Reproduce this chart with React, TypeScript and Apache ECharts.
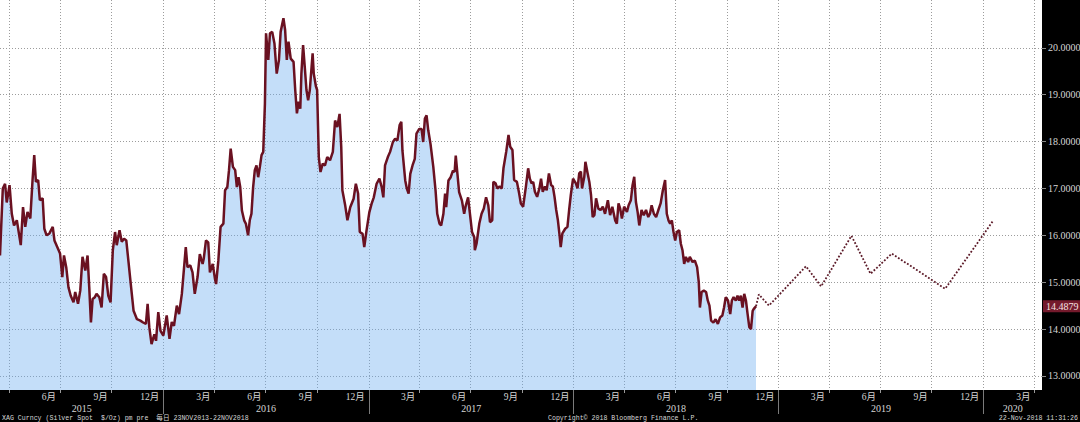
import React, { useEffect, useRef } from 'react';
import * as echarts from 'echarts';

// Silver spot (XAG, $/oz)
const price2015: [string, number][] = [
  ['2015-03-16', 15.57], ['2015-03-21', 17.0], ['2015-03-25', 17.1], ['2015-03-28', 16.7],
  ['2015-04-02', 17.07], ['2015-04-06', 16.46], ['2015-04-10', 16.21], ['2015-04-15', 16.32],
  ['2015-04-22', 15.79], ['2015-04-26', 16.6], ['2015-04-30', 16.18], ['2015-05-04', 16.5],
  ['2015-05-09', 16.36], ['2015-05-13', 17.18], ['2015-05-16', 17.71], ['2015-05-19', 17.14],
  ['2015-05-23', 17.18], ['2015-05-26', 16.75], ['2015-05-31', 16.79], ['2015-06-03', 16.14],
  ['2015-06-07', 16.0], ['2015-06-12', 16.04], ['2015-06-18', 16.18], ['2015-06-21', 15.89],
  ['2015-06-26', 15.75], ['2015-07-01', 15.61], ['2015-07-05', 15.11], ['2015-07-08', 15.57],
  ['2015-07-12', 15.32], ['2015-07-16', 14.89], ['2015-07-20', 14.71], ['2015-07-25', 14.57],
  ['2015-07-28', 14.79], ['2015-08-02', 14.54], ['2015-08-06', 14.82], ['2015-08-10', 15.54],
  ['2015-08-15', 15.25], ['2015-08-19', 15.57], ['2015-08-22', 14.89], ['2015-08-25', 14.14],
  ['2015-08-28', 14.64], ['2015-09-01', 14.68], ['2015-09-04', 14.75], ['2015-09-09', 14.68],
  ['2015-09-13', 14.46], ['2015-09-17', 15.18], ['2015-09-21', 15.11], ['2015-09-25', 14.71],
  ['2015-09-29', 14.57], ['2015-10-03', 15.68], ['2015-10-07', 16.07], ['2015-10-10', 15.79],
  ['2015-10-15', 16.11], ['2015-10-19', 15.86], ['2015-10-23', 15.93], ['2015-10-27', 15.89],
  ['2015-10-31', 15.43], ['2015-11-04', 14.96], ['2015-11-09', 14.39], ['2015-11-15', 14.21],
  ['2015-11-21', 14.18], ['2015-11-26', 14.14], ['2015-12-01', 14.11], ['2015-12-04', 14.54],
  ['2015-12-07', 14.04], ['2015-12-11', 13.68], ['2015-12-16', 13.89], ['2015-12-19', 13.75],
  ['2015-12-23', 14.36], ['2015-12-27', 13.96],
];

const price2016: [string, number][] = [
  ['2016-01-01', 13.86], ['2016-01-07', 14.29], ['2016-01-12', 13.79], ['2016-01-16', 14.15],
  ['2016-01-20', 14.07], ['2016-01-25', 14.5], ['2016-01-29', 14.32], ['2016-02-03', 14.75],
  ['2016-02-07', 15.32], ['2016-02-10', 15.75], ['2016-02-13', 15.32], ['2016-02-18', 15.36],
  ['2016-02-22', 15.21], ['2016-02-26', 14.75], ['2016-03-02', 15.11], ['2016-03-06', 15.6],
  ['2016-03-11', 15.39], ['2016-03-13', 15.5], ['2016-03-17', 15.89], ['2016-03-21', 15.85],
  ['2016-03-24', 15.21], ['2016-03-29', 15.39], ['2016-04-02', 15.07], ['2016-04-04', 14.96],
  ['2016-04-08', 15.46], ['2016-04-12', 16.18], ['2016-04-17', 16.25], ['2016-04-20', 16.96],
  ['2016-04-24', 17.03], ['2016-04-27', 17.39], ['2016-04-30', 17.85], ['2016-05-04', 17.46],
  ['2016-05-08', 17.39], ['2016-05-11', 17.03], ['2016-05-14', 17.24], ['2016-05-17', 17.03],
  ['2016-05-20', 16.53], ['2016-05-24', 16.32], ['2016-05-27', 16.25], ['2016-05-31', 16.0],
  ['2016-06-03', 16.32], ['2016-06-06', 16.46], ['2016-06-09', 17.03], ['2016-06-12', 17.39],
  ['2016-06-15', 17.49], ['2016-06-18', 17.24], ['2016-06-21', 17.46], ['2016-06-24', 17.71],
  ['2016-06-27', 17.78], ['2016-06-30', 18.81], ['2016-07-02', 20.31], ['2016-07-06', 19.74],
  ['2016-07-09', 20.31], ['2016-07-13', 20.34], ['2016-07-17', 20.09], ['2016-07-21', 19.45],
  ['2016-07-25', 19.74], ['2016-07-28', 20.34], ['2016-08-02', 20.63], ['2016-08-05', 20.38],
  ['2016-08-08', 19.74], ['2016-08-11', 20.13], ['2016-08-15', 19.77], ['2016-08-20', 19.7],
  ['2016-08-23', 19.1], ['2016-08-26', 18.6], ['2016-08-29', 18.85], ['2016-09-01', 18.7],
  ['2016-09-03', 19.45], ['2016-09-06', 20.06], ['2016-09-09', 19.59], ['2016-09-12', 19.1],
  ['2016-09-15', 18.88], ['2016-09-18', 19.1], ['2016-09-23', 19.88], ['2016-09-25', 19.45],
  ['2016-09-29', 19.17], ['2016-10-01', 19.1], ['2016-10-04', 17.67], ['2016-10-07', 17.35],
  ['2016-10-11', 17.53], ['2016-10-15', 17.49], ['2016-10-19', 17.67], ['2016-10-24', 17.6],
  ['2016-10-29', 17.78], ['2016-11-02', 18.45], ['2016-11-06', 18.31], ['2016-11-10', 18.59],
  ['2016-11-13', 17.88], ['2016-11-15', 16.96], ['2016-11-20', 16.64], ['2016-11-24', 16.32],
  ['2016-11-29', 16.6], ['2016-12-05', 16.78], ['2016-12-09', 17.1], ['2016-12-13', 16.89],
  ['2016-12-16', 16.07], ['2016-12-21', 16.03], ['2016-12-24', 15.75], ['2016-12-28', 16.1],
];

const price2017: [string, number][] = [
  ['2017-01-02', 16.49], ['2017-01-06', 16.67], ['2017-01-10', 16.81], ['2017-01-15', 17.1],
  ['2017-01-20', 17.21], ['2017-01-24', 17.03], ['2017-01-27', 16.81], ['2017-01-30', 17.49],
  ['2017-02-04', 17.67], ['2017-02-08', 17.78], ['2017-02-13', 17.99], ['2017-02-17', 18.06],
  ['2017-02-21', 18.02], ['2017-02-25', 18.35], ['2017-02-28', 18.42], ['2017-03-02', 17.81],
  ['2017-03-07', 17.17], ['2017-03-10', 16.99], ['2017-03-13', 16.89], ['2017-03-16', 17.31],
  ['2017-03-20', 17.49], ['2017-03-24', 17.63], ['2017-03-27', 18.17], ['2017-04-01', 18.27],
  ['2017-04-05', 18.27], ['2017-04-08', 17.99], ['2017-04-11', 18.49], ['2017-04-14', 18.56],
  ['2017-04-17', 18.24], ['2017-04-21', 17.95], ['2017-04-26', 17.46], ['2017-04-30', 16.96],
  ['2017-05-03', 16.46], ['2017-05-07', 16.25], ['2017-05-10', 16.21], ['2017-05-14', 16.46],
  ['2017-05-17', 16.89], ['2017-05-19', 16.6], ['2017-05-23', 17.17], ['2017-05-27', 17.24],
  ['2017-05-31', 17.38], ['2017-06-03', 17.35], ['2017-06-05', 17.7], ['2017-06-08', 17.31],
  ['2017-06-11', 16.92], ['2017-06-16', 16.74], ['2017-06-20', 16.46], ['2017-06-23', 16.64],
  ['2017-06-27', 16.81], ['2017-06-30', 16.49], ['2017-07-04', 16.07], ['2017-07-08', 15.96],
  ['2017-07-09', 15.68], ['2017-07-12', 15.82], ['2017-07-17', 16.25], ['2017-07-21', 16.46],
  ['2017-07-25', 16.57], ['2017-07-29', 16.81], ['2017-08-02', 16.64], ['2017-08-05', 16.28],
  ['2017-08-09', 16.32], ['2017-08-11', 17.14], ['2017-08-15', 17.11], ['2017-08-18', 17.0],
  ['2017-08-22', 17.04], ['2017-08-26', 17.0], ['2017-08-29', 17.43], ['2017-09-03', 17.79],
  ['2017-09-07', 18.14], ['2017-09-10', 17.89], ['2017-09-14', 17.82], ['2017-09-17', 17.18],
  ['2017-09-22', 17.14], ['2017-09-26', 16.89], ['2017-09-29', 16.68], ['2017-10-03', 16.61],
  ['2017-10-08', 17.04], ['2017-10-12', 17.43], ['2017-10-15', 17.21], ['2017-10-18', 17.11],
  ['2017-10-21', 17.14], ['2017-10-24', 16.93], ['2017-10-28', 16.82], ['2017-11-01', 17.0],
  ['2017-11-04', 17.21], ['2017-11-07', 16.93], ['2017-11-11', 17.04], ['2017-11-14', 16.96],
  ['2017-11-18', 17.32], ['2017-11-22', 17.07], ['2017-11-25', 17.04], ['2017-11-28', 16.82],
  ['2017-12-01', 16.54], ['2017-12-04', 16.32], ['2017-12-07', 16.0], ['2017-12-09', 15.75],
  ['2017-12-12', 16.04], ['2017-12-17', 16.14], ['2017-12-21', 16.18], ['2017-12-24', 16.54],
  ['2017-12-27', 16.86], ['2017-12-31', 17.21],
];

const price2018: [string, number][] = [
  ['2018-01-05', 17.11], ['2018-01-08', 17.0], ['2018-01-11', 17.32], ['2018-01-14', 17.36],
  ['2018-01-16', 17.0], ['2018-01-20', 17.25], ['2018-01-22', 17.57], ['2018-01-26', 17.32],
  ['2018-01-29', 17.14], ['2018-02-01', 16.86], ['2018-02-04', 16.39], ['2018-02-07', 16.43],
  ['2018-02-10', 16.79], ['2018-02-14', 16.57], ['2018-02-18', 16.54], ['2018-02-22', 16.61],
  ['2018-02-26', 16.46], ['2018-03-03', 16.75], ['2018-03-07', 16.43], ['2018-03-11', 16.61],
  ['2018-03-16', 16.32], ['2018-03-19', 16.25], ['2018-03-22', 16.68], ['2018-03-25', 16.57],
  ['2018-03-28', 16.36], ['2018-04-01', 16.61], ['2018-04-06', 16.5], ['2018-04-09', 16.64],
  ['2018-04-13', 16.75], ['2018-04-16', 17.07], ['2018-04-19', 17.25], ['2018-04-22', 16.71],
  ['2018-04-25', 16.5], ['2018-04-28', 16.21], ['2018-05-02', 16.54], ['2018-05-06', 16.43],
  ['2018-05-10', 16.54], ['2018-05-14', 16.39], ['2018-05-17', 16.46], ['2018-05-20', 16.64],
  ['2018-05-24', 16.46], ['2018-05-28', 16.39], ['2018-06-01', 16.54], ['2018-06-05', 16.68],
  ['2018-06-09', 16.96], ['2018-06-13', 17.18], ['2018-06-16', 16.46], ['2018-06-19', 16.32],
  ['2018-06-22', 16.25], ['2018-06-25', 16.32], ['2018-06-28', 16.07], ['2018-07-01', 15.89],
  ['2018-07-04', 16.07], ['2018-07-08', 16.11], ['2018-07-11', 15.82], ['2018-07-14', 15.68],
  ['2018-07-17', 15.39], ['2018-07-20', 15.54], ['2018-07-24', 15.43], ['2018-07-27', 15.54],
  ['2018-08-01', 15.43], ['2018-08-05', 15.46], ['2018-08-09', 15.32], ['2018-08-12', 15.0],
  ['2018-08-14', 14.46], ['2018-08-17', 14.79], ['2018-08-21', 14.82], ['2018-08-25', 14.79],
  ['2018-08-28', 14.61], ['2018-08-31', 14.5], ['2018-09-03', 14.18], ['2018-09-07', 14.14],
  ['2018-09-11', 14.21], ['2018-09-15', 14.11], ['2018-09-19', 14.25], ['2018-09-23', 14.29],
  ['2018-09-26', 14.46], ['2018-09-29', 14.68], ['2018-10-03', 14.61], ['2018-10-07', 14.32],
  ['2018-10-10', 14.61], ['2018-10-13', 14.68], ['2018-10-17', 14.61], ['2018-10-20', 14.71],
  ['2018-10-23', 14.61], ['2018-10-26', 14.71], ['2018-10-29', 14.46], ['2018-11-01', 14.75],
  ['2018-11-04', 14.61], ['2018-11-07', 14.32], ['2018-11-10', 14.04], ['2018-11-13', 14.0],
  ['2018-11-16', 14.39], ['2018-11-18', 14.43], ['2018-11-22', 14.4879],
];

// Dotted projection path
const projection: [string, number][] = [
  ['2018-11-22', 14.4879], ['2018-11-27', 14.74], ['2018-12-15', 14.5], ['2019-02-19', 15.34],
  ['2019-03-18', 14.91], ['2019-05-11', 15.99], ['2019-06-14', 15.18], ['2019-07-22', 15.61],
  ['2019-10-25', 14.86], ['2020-01-19', 16.32],
];

const yTicks = [13, 14, 15, 16, 17, 18, 19, 20];
const quarterStarts = [
  '2015-04-01', '2015-07-01', '2015-10-01', '2016-01-01', '2016-04-01', '2016-07-01', '2016-10-01',
  '2017-01-01', '2017-04-01', '2017-07-01', '2017-10-01', '2018-01-01', '2018-04-01', '2018-07-01',
  '2018-10-01', '2019-01-01', '2019-04-01', '2019-07-01', '2019-10-01', '2020-01-01', '2020-04-01',
];
const yearStarts = ['2016-01-01', '2017-01-01', '2018-01-01', '2019-01-01', '2020-01-01'];
const years = [2015, 2016, 2017, 2018, 2019, 2020];
const axisMin = '2015-03-16';
const axisMax = '2020-04-14 12:00:00';

const footerLeft = 'XAG Curncy (Silver Spot  $/Oz) pm pre  每日 23NOV2013-22NOV2018';
const footerCenter = 'Copyright© 2018 Bloomberg Finance L.P.';
const footerRight = '22-Nov-2018 11:31:26';

const SERIF = "'Liberation Serif', 'Noto Sans CJK SC', serif";
const MONO = "'Liberation Mono', 'Noto Sans CJK SC', monospace";
const LABEL = '#d6d6d6';
const GRID = '#9c9c9c';

const ts = (s: string) => +echarts.time.parse(s);

export default function App() {
  const ref = useRef<HTMLDivElement>(null);

  useEffect(() => {
    if (!ref.current) return;
    const chart = echarts.init(ref.current, undefined, { renderer: 'svg' });

    const priceData = [...price2015, ...price2016, ...price2017, ...price2018].map(
      ([d, v]) => [ts(d), v]
    );
    const projData = projection.map(([d, v]) => [ts(d), v]);
    const lastPrice = priceData[priceData.length - 1][1];
    const tMin = ts(axisMin);
    const tMax = ts(axisMax);
    const DAY = 86400000;

    const quarterTs = quarterStarts.map(ts);
    const monthLabelValues = quarterTs.slice(1);
    const yearStartTs = yearStarts.map(ts);
    const yearCenters = years.map((y) => {
      const s = Math.max(tMin, ts(`${y}-01-01`));
      const e = Math.min(tMax, ts(`${y + 1}-01-01`));
      return (s + e) / 2;
    });

    const baseX = {
      type: 'value' as const,
      min: tMin,
      max: tMax,
      position: 'bottom' as const,
      axisLine: { show: false },
      splitLine: { show: false },
    };

    chart.setOption({
      animation: false,
      backgroundColor: '#000',
      grid: {
        left: 0, right: 38, top: 0, bottom: 32,
        show: true, backgroundColor: '#fff', borderWidth: 0,
        containLabel: false, outerBoundsMode: 'none',
      },
      xAxis: [
        {
          ...baseX,
          axisTick: { show: true, customValues: quarterTs, length: 3, lineStyle: { color: '#9a9a9a' } },
          splitLine: { show: true, lineStyle: { color: GRID, type: [1, 2], width: 1 } },
          axisLabel: {
            customValues: monthLabelValues,
            formatter: (v: number) => `${new Date(v - DAY).getMonth() + 1}月`,
            color: LABEL, fontSize: 9.5, fontFamily: SERIF,
            align: 'right', padding: [0, 4, 0, 0], margin: 2,
          },
        },
        {
          ...baseX,
          axisTick: { show: false },
          axisLabel: {
            customValues: yearCenters,
            formatter: (v: number) => `${new Date(v).getFullYear()}`,
            color: LABEL, fontSize: 10, fontFamily: SERIF, margin: 13,
          },
        },
        {
          ...baseX,
          axisLabel: { show: false },
          axisTick: { show: true, customValues: yearStartTs, length: 24, lineStyle: { color: '#7a7a7a' } },
        },
      ],
      yAxis: [
        {
          type: 'value',
          position: 'right',
          min: 12.7, max: 21.02,
          splitNumber: 8, minInterval: 1, maxInterval: 1,
          axisLine: { show: false },
          axisTick: { show: true, customValues: yTicks, length: 4, lineStyle: { color: '#8a8a8a' } },
          splitLine: { show: true, lineStyle: { color: GRID, type: [1, 2], width: 1 } },
          axisLabel: {
            customValues: yTicks,
            formatter: (v: number) => v.toFixed(4),
            color: LABEL, fontSize: 10, fontFamily: SERIF, margin: 6,
          },
        },
        {
          type: 'value',
          position: 'right',
          min: 12.7, max: 21.02,
          axisLine: { show: false },
          axisTick: { show: false },
          splitLine: { show: false },
          axisLabel: {
            customValues: [lastPrice],
            formatter: (v: number) => v.toFixed(4),
            color: '#f6e2e2', fontSize: 10, fontFamily: SERIF, margin: 1,
            backgroundColor: '#741a2c', padding: [1, 3, 1, 3],
          },
        },
      ],
      series: [
        {
          type: 'line',
          data: priceData,
          xAxisIndex: 0, yAxisIndex: 0,
          symbol: 'none',
          lineStyle: { color: '#6a1121', width: 2.5 },
          areaStyle: { color: 'rgba(108, 172, 240, 0.4)', opacity: 1, origin: 'start' },
          z: 3,
        },
        {
          type: 'line',
          data: projData,
          xAxisIndex: 0, yAxisIndex: 0,
          symbol: 'none',
          lineStyle: { color: '#5c1a28', width: 1.8, type: [1.8, 1.8] },
          z: 3,
        },
      ],
      graphic: [
        {
          type: 'text', x: 2, y: 418,
          style: { text: footerLeft, fill: LABEL, fontSize: 6.6, fontFamily: MONO, align: 'left', verticalAlign: 'middle' },
        },
        {
          type: 'text', x: 548, y: 418,
          style: { text: footerCenter, fill: LABEL, fontSize: 6.6, fontFamily: MONO, align: 'left', verticalAlign: 'middle' },
        },
        {
          type: 'text', x: 1078, y: 418,
          style: { text: footerRight, fill: LABEL, fontSize: 6.6, fontFamily: MONO, align: 'right', verticalAlign: 'middle' },
        },
      ],
    });

    return () => chart.dispose();
  }, []);

  return (
    <div
      ref={ref}
      style={{ position: 'fixed', left: 0, top: 0, width: 1080, height: 422 }}
    />
  );
}
